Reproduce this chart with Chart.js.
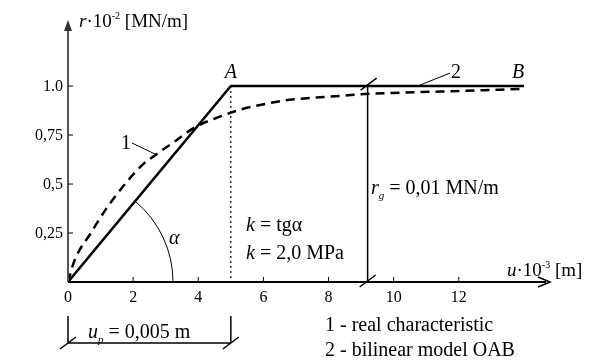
<!DOCTYPE html>
<html>
<head>
<meta charset="utf-8">
<script src="https://cdn.jsdelivr.net/npm/chart.js@4"></script>
<style>
  html, body { margin: 0; padding: 0; background: #fff; }
  #wrap { width: 589px; height: 363px; }
</style>
</head>
<body>
<div id="wrap"><canvas id="c"></canvas></div>
<script>
// data (u in 10^-3 m, r in 10^-2 MN/m)
const bilinearU = [0, 5, 14];
const bilinearR = [0, 1.0, 1.0];
const realU = [0, 0.2, 0.7, 1.2, 1.8, 2.3, 2.7, 3.3, 3.9, 4.6, 5.3, 6.1, 6.8, 7.5, 8.4, 9.1, 10, 12, 13.9];
const realR = [0, 0.11, 0.25, 0.38, 0.51, 0.6, 0.65, 0.72, 0.79, 0.84, 0.88, 0.91, 0.93, 0.94, 0.95, 0.96, 0.965, 0.975, 0.985];
const xTicks = [0, 2, 4, 6, 8, 10, 12];
const yTicks = [0.25, 0.5, 0.75, 1.0];
const yTickLabels = ['0,25', '0,5', '0,75', '1.0'];
const uP = 5;      // u_p = 0,005 m
const uRg = 9.2;   // position of the r_g dimension line

const SERIF = '"Liberation Serif", "DejaVu Serif", serif';

function toPoints(xs, ys) {
    return xs.map((x, i) => ({ x: x, y: ys[i] }));
}

// draws a run of [text, font, dy] pieces left to right
function richText(ctx, x, y, parts) {
    parts.forEach(p => {
        ctx.font = p[1];
        ctx.fillText(p[0], x, y + (p[2] || 0));
        x += ctx.measureText(p[0]).width;
    });
    return x;
}

function slash(ctx, x, y) {
    ctx.beginPath();
    ctx.moveTo(x - 8, y + 6);
    ctx.lineTo(x + 8, y - 6);
    ctx.stroke();
}

const decorations = {
    id: 'decorations',
    beforeDraw(chart) {
        const ctx = chart.ctx;
        ctx.save();
        ctx.fillStyle = '#fff';
        ctx.fillRect(0, 0, chart.width, chart.height);
        ctx.restore();
    },
    afterDraw(chart) {
        const ctx = chart.ctx;
        const xs = chart.scales.x, ys = chart.scales.y;
        const px = v => xs.getPixelForValue(v);
        const py = v => ys.getPixelForValue(v);
        const ox = px(0), oy = py(0);

        ctx.save();
        ctx.strokeStyle = '#000';
        ctx.fillStyle = '#000';

        // y axis (grey) with arrow
        ctx.strokeStyle = '#555';
        ctx.lineWidth = 2;
        ctx.beginPath();
        ctx.moveTo(ox, oy);
        ctx.lineTo(ox, chart.chartArea.top + 4);
        ctx.stroke();
        ctx.fillStyle = '#333';
        ctx.beginPath();
        ctx.moveTo(ox, chart.chartArea.top - 2);
        ctx.lineTo(ox - 4, chart.chartArea.top + 9);
        ctx.lineTo(ox + 4, chart.chartArea.top + 9);
        ctx.closePath();
        ctx.fill();

        // x axis with arrow
        ctx.strokeStyle = '#000';
        ctx.fillStyle = '#000';
        ctx.beginPath();
        ctx.moveTo(ox, oy);
        ctx.lineTo(chart.chartArea.right - 4, oy);
        ctx.stroke();
        ctx.lineWidth = 1.5;
        ctx.beginPath();
        ctx.moveTo(chart.chartArea.right - 12, oy - 5);
        ctx.lineTo(chart.chartArea.right, oy);
        ctx.lineTo(chart.chartArea.right - 12, oy + 5);
        ctx.stroke();

        // ticks and labels
        ctx.lineWidth = 1;
        ctx.font = '16px ' + SERIF;
        ctx.textAlign = 'center';
        ctx.textBaseline = 'alphabetic';
        xTicks.forEach(t => {
            if (t > 0) {
                ctx.beginPath();
                ctx.moveTo(px(t), oy - 5);
                ctx.lineTo(px(t), oy);
                ctx.stroke();
            }
            ctx.fillText(String(t), px(t), oy + 20);
        });
        ctx.textAlign = 'right';
        yTicks.forEach((t, i) => {
            ctx.beginPath();
            ctx.moveTo(ox, py(t));
            ctx.lineTo(ox + 5, py(t));
            ctx.stroke();
            ctx.fillText(yTickLabels[i], ox - 5, py(t) + 5);
        });

        // axis titles
        ctx.textAlign = 'left';
        richText(ctx, ox + 11, 27, [
            ['r', 'italic 19px ' + SERIF],
            ['·10', '19px ' + SERIF],
            ['-2', '10px ' + SERIF, -8],
            [' [MN/m]', '19px ' + SERIF]
        ]);
        richText(ctx, 507, oy - 6, [
            ['u', 'italic 19px ' + SERIF],
            ['·10', '19px ' + SERIF],
            ['-3', '10px ' + SERIF, -8],
            [' [m]', '19px ' + SERIF]
        ]);

        // dotted line under A
        ctx.setLineDash([2, 3]);
        ctx.lineWidth = 1.2;
        ctx.beginPath();
        ctx.moveTo(px(uP), py(1.0));
        ctx.lineTo(px(uP), oy);
        ctx.stroke();
        ctx.setLineDash([]);

        // angle alpha
        const ang = Math.atan2(oy - py(1.0), px(uP) - ox);
        ctx.lineWidth = 1;
        ctx.beginPath();
        ctx.arc(ox, oy, 105, -ang, 0);
        ctx.stroke();
        ctx.font = 'italic 20px ' + SERIF;
        ctx.fillText('α', 169, 244);

        // point labels
        ctx.font = 'italic 20px ' + SERIF;
        ctx.fillText('A', px(uP) - 6, py(1.0) - 8);
        ctx.fillText('B', 512, py(1.0) - 8);
        ctx.font = '20px ' + SERIF;
        ctx.fillText('2', 451, py(1.0) - 8);
        ctx.fillText('1', 121, 149);
        ctx.beginPath();
        ctx.moveTo(420, py(1.0) - 1);
        ctx.lineTo(450, py(1.0) - 13);
        ctx.moveTo(132, 143);
        ctx.lineTo(157, 155);
        ctx.stroke();

        // k text
        richText(ctx, 246, 231, [
            ['k', 'italic 20px ' + SERIF],
            [' = tgα', '20px ' + SERIF]
        ]);
        richText(ctx, 246, 259, [
            ['k', 'italic 20px ' + SERIF],
            [' = 2,0 MPa', '20px ' + SERIF]
        ]);

        // r_g dimension line
        const gx = px(uRg);
        ctx.lineWidth = 1.5;
        ctx.beginPath();
        ctx.moveTo(gx, py(1.0));
        ctx.lineTo(gx, oy);
        ctx.stroke();
        slash(ctx, gx, oy - 1);
        slash(ctx, gx + 1, py(1.0) - 2);
        richText(ctx, 371, 194, [
            ['r', 'italic 20px ' + SERIF],
            ['g', 'italic 11px ' + SERIF, 5],
            [' = 0,01 MN/m', '20px ' + SERIF]
        ]);

        // u_p dimension line
        const dimY = 343;
        ctx.lineWidth = 1.5;
        ctx.beginPath();
        ctx.moveTo(ox, 316);
        ctx.lineTo(ox, dimY);
        ctx.moveTo(px(uP), 316);
        ctx.lineTo(px(uP), dimY);
        ctx.moveTo(ox, dimY);
        ctx.lineTo(px(uP), dimY);
        ctx.stroke();
        slash(ctx, ox, dimY);
        slash(ctx, px(uP), dimY);
        richText(ctx, 88, 338, [
            ['u', 'italic 20px ' + SERIF],
            ['p', 'italic 11px ' + SERIF, 5],
            [' = 0,005 m', '20px ' + SERIF]
        ]);

        // legend text
        ctx.font = '20px ' + SERIF;
        ctx.fillText('1 - real characteristic', 325, 331);
        ctx.fillText('2 - bilinear model OAB', 325, 356);

        ctx.restore();
    }
};

new Chart(document.getElementById('c'), {
    type: 'line',
    data: {
        datasets: [
            {
                label: '2 - bilinear model OAB',
                data: toPoints(bilinearU, bilinearR),
                borderColor: '#000',
                borderWidth: 2.5,
                pointRadius: 0,
                tension: 0,
                fill: false
            },
            {
                label: '1 - real characteristic',
                data: toPoints(realU, realR),
                borderColor: '#000',
                borderWidth: 2.5,
                borderDash: [9, 6],
                pointRadius: 0,
                cubicInterpolationMode: 'monotone',
                fill: false
            }
        ]
    },
    options: {
        responsive: true,
        maintainAspectRatio: false,
        animation: false,
        layout: { padding: { left: 68, right: 39, top: 22, bottom: 81 } },
        plugins: { legend: { display: false }, tooltip: { enabled: false } },
        scales: {
            x: { type: 'linear', min: 0, max: 14.8, display: false },
            y: { type: 'linear', min: 0, max: 1.327, display: false }
        }
    },
    plugins: [decorations]
});
</script>
</body>
</html>
